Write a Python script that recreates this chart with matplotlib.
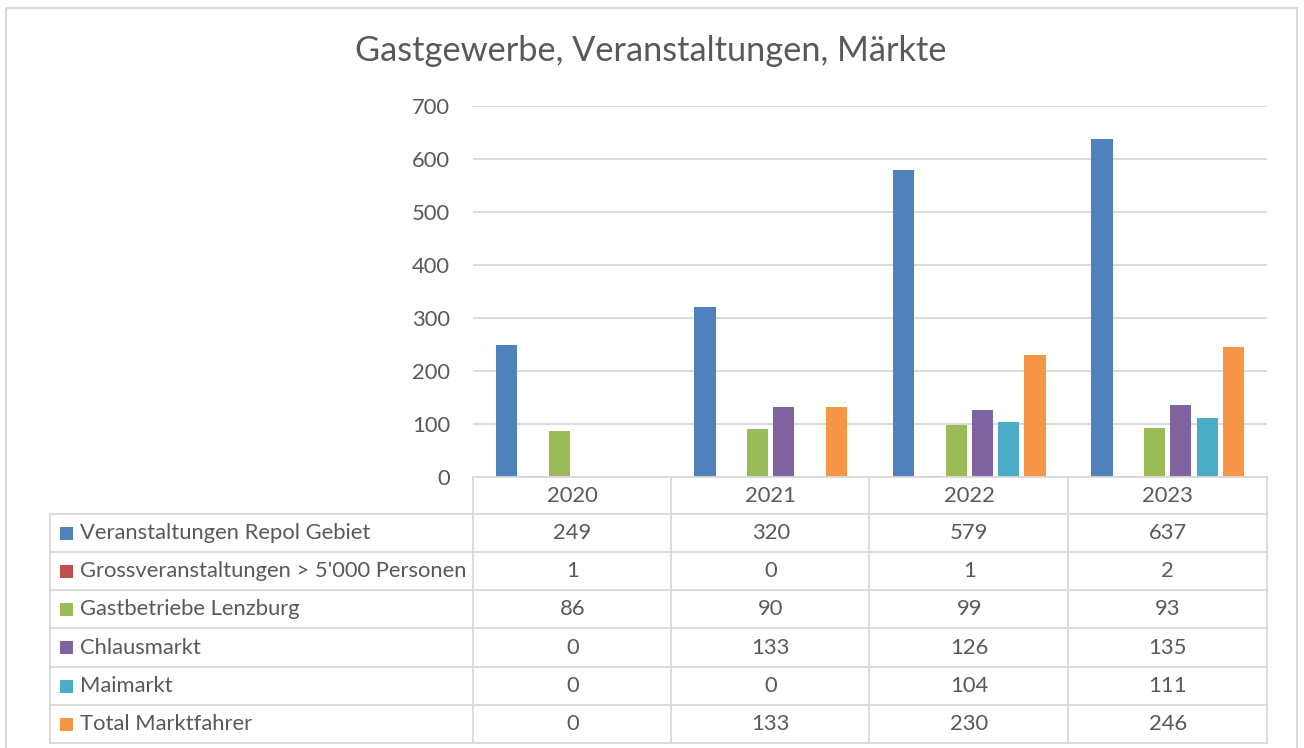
import matplotlib
matplotlib.use("Agg")
import matplotlib.pyplot as plt
from matplotlib.patches import Rectangle
from matplotlib.transforms import blended_transform_factory
import numpy as np

# ---- data ----
years = ["2020", "2021", "2022", "2023"]
series_names = [
    "Veranstaltungen Repol Gebiet",
    "Grossveranstaltungen > 5'000 Personen",
    "Gastbetriebe Lenzburg",
    "Chlausmarkt",
    "Maimarkt",
    "Total Marktfahrer",
]
repol = [249, 320, 579, 637]
gross = [1, 0, 1, 2]
gast = [86, 90, 99, 93]
chlaus = [0, 133, 126, 135]
maimarkt = [0, 0, 104, 111]
total_markt = [0, 133, 230, 246]
y_ticks = [0, 100, 200, 300, 400, 500, 600, 700]
title_text = "Gastgewerbe, Veranstaltungen, Märkte"

series_values = [repol, gross, gast, chlaus, maimarkt, total_markt]
colors = ["#4F81BD", "#C0504D", "#9BBB59", "#8064A2", "#4BACC6", "#F79646"]
TXT = "#595959"
GRID = "#D9D9D9"
FONT = "Lato"

plt.rcParams["font.family"] = [FONT, "DejaVu Sans"]

W, H = 1304, 748
fig = plt.figure(figsize=(W / 100, H / 100), dpi=100)
fig.patch.set_facecolor("white")

PL, PR, PT, PB = 473, 1267, 106, 477
ax = fig.add_axes([PL / W, 1 - PB / H, (PR - PL) / W, (PB - PT) / H])
ov = fig.add_axes([0, 0, 1, 1], zorder=5)
ov.set_xlim(0, W)
ov.set_ylim(H, 0)
ov.axis("off")
ov.patch.set_alpha(0)

ren = fig.canvas.get_renderer()


def fit(t, target):
    w = t.get_window_extent(ren).width
    t.set_fontsize(t.get_fontsize() * target / w)
    return t.get_fontsize()


# font size for table / ticks (fit long label to measured width)
tmp = ov.text(0, 0, series_names[1], fontsize=14)
fs = fit(tmp, 388)
tmp.remove()

# ---- bars ----
n = len(series_values)
x = np.arange(len(years))
step = 0.1325
bw = 0.106
for i, (vals, c) in enumerate(zip(series_values, colors)):
    ax.bar(x + (i - (n - 1) / 2) * step, vals, width=bw, color=c, zorder=3, linewidth=0)

ax.set_xlim(-0.5, len(years) - 0.5)
ax.set_ylim(0, 700)
ax.set_yticks(y_ticks)
ax.set_xticks([])
ax.tick_params(axis="y", length=0, pad=16.5, labelsize=fs, labelcolor=TXT)
for s in ax.spines.values():
    s.set_visible(False)
ax.yaxis.grid(True, color=GRID, linewidth=1.3, zorder=0)
ax.set_axisbelow(True)
ax.patch.set_alpha(0)

# ---- title ----
tt = ov.text(650, 51, title_text, ha="center", va="center", color=TXT, fontsize=22)
fit(tt, 591)
tt.set_x(355 + 591 / 2)

# ---- data table ----
col_edges = [473, 671, 869, 1068, 1267]
row_edges = [477, 514, 552, 590, 628, 667, 705, 743]
TL = 50
lw = 1.3
ov.plot([col_edges[0], col_edges[-1]], [row_edges[0], row_edges[0]], color=GRID, lw=lw)
for ce in col_edges:
    ov.plot([ce, ce], [row_edges[0], row_edges[-1]], color=GRID, lw=lw)
ov.plot([TL, TL], [row_edges[1], row_edges[-1]], color=GRID, lw=lw)
for re in row_edges[1:]:
    ov.plot([TL, col_edges[-1]], [re, re], color=GRID, lw=lw)

bt = blended_transform_factory(ax.transData, ov.transData)
hy = (row_edges[0] + row_edges[1]) / 2
for j, yr in enumerate(years):
    ov.text(j, hy, yr, transform=bt, ha="center", va="center", color=TXT, fontsize=fs)

for i, (name, vals, c) in enumerate(zip(series_names, series_values, colors)):
    cy = (row_edges[i + 1] + row_edges[i + 2]) / 2
    ov.add_patch(Rectangle((60, cy - 6.5), 13, 13, color=c, lw=0))
    ov.text(80, cy, name, ha="left", va="center", color=TXT, fontsize=fs)
    for j, v in enumerate(vals):
        ov.text(j, cy, str(v), transform=bt, ha="center", va="center", color=TXT, fontsize=fs)

# ---- outer chart frame ----
ov.add_patch(Rectangle((6, 8), 1291, 800, fill=False, edgecolor=GRID, lw=1.5))

fig.savefig("out.png", dpi=100, facecolor="white")
